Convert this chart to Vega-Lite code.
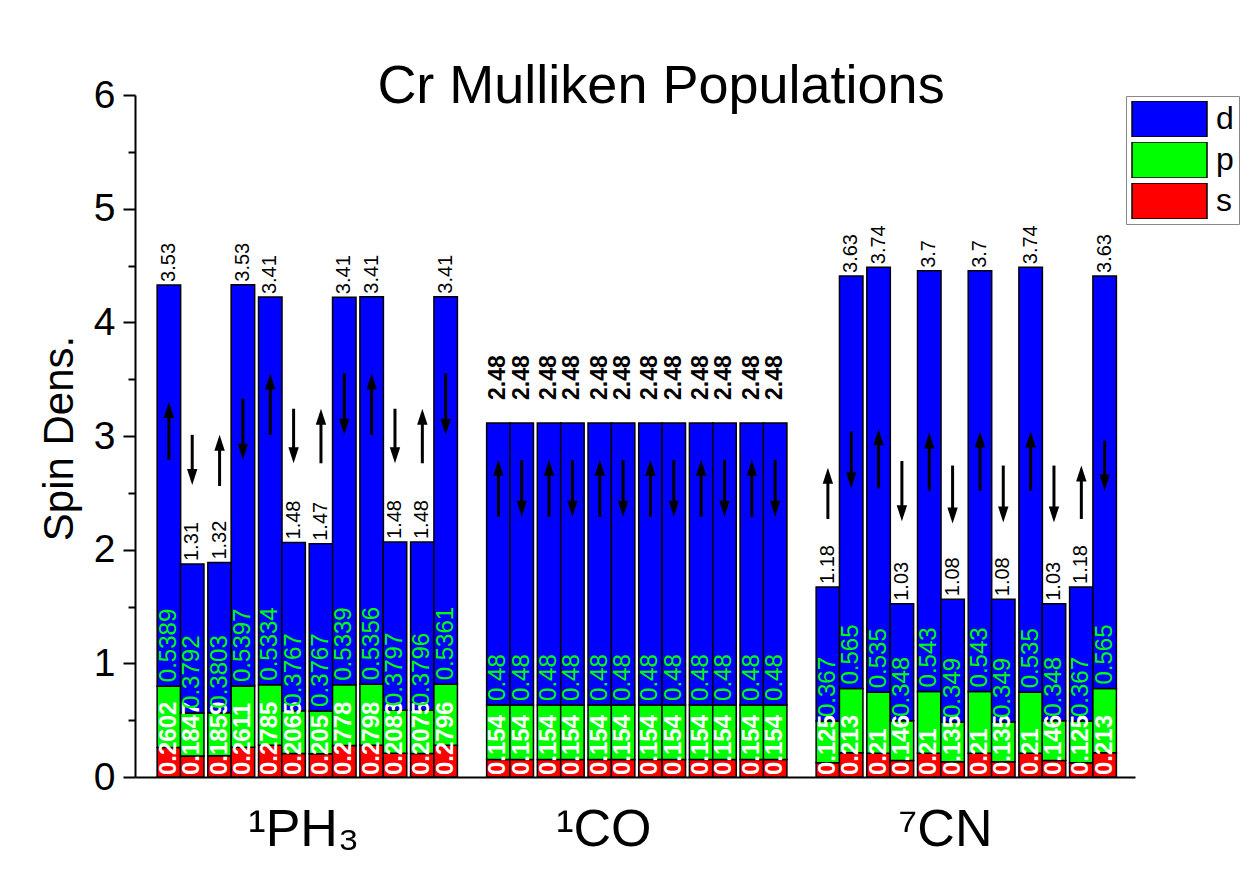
{
  "$schema": "https://vega.github.io/schema/vega-lite/v6.json",
  "width": 1000,
  "height": 682,
  "autosize": {"type": "none"},
  "padding": {"left": 135, "top": 95, "right": 115, "bottom": 102},
  "background": "white",
  "config": {
    "font": "Liberation Sans",
    "view": {"stroke": null},
    "axis": {"grid": false, "domainColor": "black", "domainWidth": 2, "tickColor": "black", "tickWidth": 2, "labelColor": "black", "titleColor": "black", "labelFont": "Liberation Sans", "titleFont": "Liberation Sans"}
  },
  "title": {"text": "Cr Mulliken Populations", "fontSize": 54, "fontWeight": "normal", "font": "Liberation Sans", "color": "black", "anchor": "middle", "frame": "group", "dx": 26, "baseline": "alphabetic", "offset": -81},
  "data": {"values": [
    {"g": "PH3", "x": -0.23, "dir": "up", "s": 0.2602, "p": 0.5389, "d": 3.53, "a0": 2.79, "a1": 3.30},
    {"g": "PH3", "x": 0.23, "dir": "down", "s": 0.1847, "p": 0.3792, "d": 1.31, "a0": 2.57, "a1": 3.01},
    {"g": "PH3", "x": 0.77, "dir": "up", "s": 0.1859, "p": 0.3803, "d": 1.32, "a0": 2.56, "a1": 3.01},
    {"g": "PH3", "x": 1.23, "dir": "down", "s": 0.2611, "p": 0.5397, "d": 3.53, "a0": 2.79, "a1": 3.33},
    {"g": "PH3", "x": 1.77, "dir": "up", "s": 0.2785, "p": 0.5334, "d": 3.41, "a0": 3.01, "a1": 3.55},
    {"g": "PH3", "x": 2.23, "dir": "down", "s": 0.2065, "p": 0.3767, "d": 1.48, "a0": 2.76, "a1": 3.24},
    {"g": "PH3", "x": 2.77, "dir": "up", "s": 0.205, "p": 0.3767, "d": 1.47, "a0": 2.76, "a1": 3.24},
    {"g": "PH3", "x": 3.23, "dir": "down", "s": 0.2778, "p": 0.5339, "d": 3.41, "a0": 3.01, "a1": 3.55},
    {"g": "PH3", "x": 3.77, "dir": "up", "s": 0.2798, "p": 0.5356, "d": 3.41, "a0": 3.01, "a1": 3.55},
    {"g": "PH3", "x": 4.23, "dir": "down", "s": 0.2083, "p": 0.3797, "d": 1.48, "a0": 2.76, "a1": 3.24},
    {"g": "PH3", "x": 4.77, "dir": "up", "s": 0.2075, "p": 0.3796, "d": 1.48, "a0": 2.76, "a1": 3.24},
    {"g": "PH3", "x": 5.23, "dir": "down", "s": 0.2796, "p": 0.5361, "d": 3.41, "a0": 3.01, "a1": 3.55},
    {"g": "CO", "x": 6.27, "dir": "up", "s": 0.154, "p": 0.48, "d": 2.48, "a0": 2.29, "a1": 2.79},
    {"g": "CO", "x": 6.73, "dir": "down", "s": 0.154, "p": 0.48, "d": 2.48, "a0": 2.29, "a1": 2.79},
    {"g": "CO", "x": 7.27, "dir": "up", "s": 0.154, "p": 0.48, "d": 2.48, "a0": 2.29, "a1": 2.79},
    {"g": "CO", "x": 7.73, "dir": "down", "s": 0.154, "p": 0.48, "d": 2.48, "a0": 2.29, "a1": 2.79},
    {"g": "CO", "x": 8.27, "dir": "up", "s": 0.154, "p": 0.48, "d": 2.48, "a0": 2.29, "a1": 2.79},
    {"g": "CO", "x": 8.73, "dir": "down", "s": 0.154, "p": 0.48, "d": 2.48, "a0": 2.29, "a1": 2.79},
    {"g": "CO", "x": 9.27, "dir": "up", "s": 0.154, "p": 0.48, "d": 2.48, "a0": 2.29, "a1": 2.79},
    {"g": "CO", "x": 9.73, "dir": "down", "s": 0.154, "p": 0.48, "d": 2.48, "a0": 2.29, "a1": 2.79},
    {"g": "CO", "x": 10.27, "dir": "up", "s": 0.154, "p": 0.48, "d": 2.48, "a0": 2.29, "a1": 2.79},
    {"g": "CO", "x": 10.73, "dir": "down", "s": 0.154, "p": 0.48, "d": 2.48, "a0": 2.29, "a1": 2.79},
    {"g": "CO", "x": 11.27, "dir": "up", "s": 0.154, "p": 0.48, "d": 2.48, "a0": 2.29, "a1": 2.79},
    {"g": "CO", "x": 11.73, "dir": "down", "s": 0.154, "p": 0.48, "d": 2.48, "a0": 2.29, "a1": 2.79},
    {"g": "CN", "x": 12.77, "dir": "up", "s": 0.125, "p": 0.367, "d": 1.18, "a0": 2.27, "a1": 2.72},
    {"g": "CN", "x": 13.23, "dir": "down", "s": 0.213, "p": 0.565, "d": 3.63, "a0": 2.54, "a1": 3.04},
    {"g": "CN", "x": 13.77, "dir": "up", "s": 0.21, "p": 0.535, "d": 3.74, "a0": 2.54, "a1": 3.06},
    {"g": "CN", "x": 14.23, "dir": "down", "s": 0.146, "p": 0.348, "d": 1.03, "a0": 2.25, "a1": 2.78},
    {"g": "CN", "x": 14.77, "dir": "up", "s": 0.21, "p": 0.543, "d": 3.7, "a0": 2.52, "a1": 3.03},
    {"g": "CN", "x": 15.23, "dir": "down", "s": 0.135, "p": 0.349, "d": 1.08, "a0": 2.23, "a1": 2.74},
    {"g": "CN", "x": 15.77, "dir": "up", "s": 0.21, "p": 0.543, "d": 3.7, "a0": 2.52, "a1": 3.04},
    {"g": "CN", "x": 16.23, "dir": "down", "s": 0.135, "p": 0.349, "d": 1.08, "a0": 2.24, "a1": 2.74},
    {"g": "CN", "x": 16.77, "dir": "up", "s": 0.21, "p": 0.535, "d": 3.74, "a0": 2.52, "a1": 3.04},
    {"g": "CN", "x": 17.23, "dir": "down", "s": 0.146, "p": 0.348, "d": 1.03, "a0": 2.24, "a1": 2.74},
    {"g": "CN", "x": 17.77, "dir": "up", "s": 0.125, "p": 0.367, "d": 1.18, "a0": 2.27, "a1": 2.74},
    {"g": "CN", "x": 18.23, "dir": "down", "s": 0.213, "p": 0.565, "d": 3.63, "a0": 2.52, "a1": 2.96}
  ]},
  "layer": [
    {
      "transform": [
        {"fold": ["s", "p", "d"], "as": ["orbital", "value"]},
        {"stack": "value", "groupby": ["x"], "sort": [{"field": "orbital", "order": "descending"}], "as": ["v0", "v1"]}
      ],
      "mark": {"type": "bar", "width": 23.5, "stroke": "black", "strokeWidth": 1.5},
      "encoding": {
        "x": {"field": "x", "type": "quantitative", "title": null,
          "scale": {"domain": [-0.8, 18.73], "nice": false, "zero": false},
          "axis": {"title": null, "values": [2.42, 8.34, 15.08], "labelExpr": "datum.value < 5 ? '¹PH₃' : datum.value < 12 ? '¹CO' : '⁷CN'", "labelFontSize": 52, "labelBaseline": "alphabetic", "labelPadding": 68, "ticks": false, "tickSize": 0, "labelOverlap": false, "labelFlush": false}},
        "y": {"field": "v0", "type": "quantitative", "title": "Spin Dens.",
          "scale": {"domain": [0, 6], "nice": false, "zero": true},
          "axis": {"title": "Spin Dens.", "titleFontSize": 42, "titleFontWeight": "normal", "titleX": -63, "titleY": 343, "titleAlign": "center", "titleBaseline": "alphabetic", "titleAngle": 270,
            "values": [0, 0.5, 1, 1.5, 2, 2.5, 3, 3.5, 4, 4.5, 5, 5.5, 6],
            "labelExpr": "datum.value % 1 === 0 ? format(datum.value, 'd') : ''", "labelFontSize": 39, "labelPadding": 8, "labelOverlap": false,
            "tickSize": {"condition": {"test": "datum.value % 1 !== 0", "value": 7}, "value": 12}}},
        "y2": {"field": "v1"},
        "color": {"field": "orbital", "type": "nominal",
          "scale": {"domain": ["d", "p", "s"], "range": ["#0000ff", "#00ff00", "#ff0000"]},
          "legend": {"orient": "none", "legendX": 991, "legendY": 1, "title": null, "symbolType": "M-1,-0.48H1V0.48H-1Z", "symbolSize": 5625, "symbolStrokeColor": "black", "symbolStrokeWidth": 1.5, "symbolOpacity": 1, "clipHeight": 36, "labelFontSize": 32, "labelFont": "Liberation Sans", "labelColor": "black", "labelOffset": 8, "rowPadding": 5, "padding": 5, "strokeColor": "#888888", "fillColor": "white"}}
      }
    },
    {
      "transform": [
        {"fold": ["s", "p", "d"], "as": ["orbital", "value"]},
        {"stack": "value", "groupby": ["x"], "sort": [{"field": "orbital", "order": "descending"}], "as": ["v0", "v1"]},
        {"filter": "datum.orbital === 's'"}
      ],
      "mark": {"type": "text", "angle": 270, "align": "left", "baseline": "middle", "dx": 2, "fontSize": 24, "fontWeight": "bold", "color": "white"},
      "encoding": {
        "x": {"field": "x", "type": "quantitative", "title": null},
        "y": {"field": "v0", "type": "quantitative", "title": "Spin Dens."},
        "text": {"field": "value", "type": "nominal"}
      }
    },
    {
      "transform": [
        {"fold": ["s", "p", "d"], "as": ["orbital", "value"]},
        {"stack": "value", "groupby": ["x"], "sort": [{"field": "orbital", "order": "descending"}], "as": ["v0", "v1"]},
        {"filter": "datum.orbital === 'p'"}
      ],
      "mark": {"type": "text", "angle": 270, "align": "left", "baseline": "middle", "dx": 4, "fontSize": 24, "color": "#00ff00"},
      "encoding": {
        "x": {"field": "x", "type": "quantitative", "title": null},
        "y": {"field": "v1", "type": "quantitative", "title": "Spin Dens."},
        "text": {"field": "value", "type": "nominal"}
      }
    },
    {
      "transform": [
        {"fold": ["s", "p", "d"], "as": ["orbital", "value"]},
        {"stack": "value", "groupby": ["x"], "sort": [{"field": "orbital", "order": "descending"}], "as": ["v0", "v1"]},
        {"filter": "datum.orbital === 'd' && datum.g !== 'CO'"}
      ],
      "mark": {"type": "text", "angle": 270, "align": "left", "baseline": "middle", "dx": 3, "fontSize": 20, "color": "black"},
      "encoding": {
        "x": {"field": "x", "type": "quantitative", "title": null},
        "y": {"field": "v1", "type": "quantitative", "title": "Spin Dens."},
        "text": {"field": "value", "type": "nominal"}
      }
    },
    {
      "transform": [
        {"fold": ["s", "p", "d"], "as": ["orbital", "value"]},
        {"stack": "value", "groupby": ["x"], "sort": [{"field": "orbital", "order": "descending"}], "as": ["v0", "v1"]},
        {"filter": "datum.orbital === 'd' && datum.g === 'CO'"}
      ],
      "mark": {"type": "text", "angle": 270, "align": "left", "baseline": "middle", "dx": 23, "fontSize": 23, "fontWeight": "bold", "color": "black"},
      "encoding": {
        "x": {"field": "x", "type": "quantitative", "title": null},
        "y": {"field": "v1", "type": "quantitative", "title": "Spin Dens."},
        "text": {"field": "value", "type": "nominal"}
      }
    },
    {
      "transform": [{"filter": "datum.dir === 'up'"}],
      "mark": {"type": "rule", "color": "black", "strokeWidth": 3, "y2Offset": 14},
      "encoding": {
        "x": {"field": "x", "type": "quantitative", "title": null},
        "y": {"field": "a0", "type": "quantitative", "title": "Spin Dens."},
        "y2": {"field": "a1"}
      }
    },
    {
      "transform": [{"filter": "datum.dir === 'down'"}],
      "mark": {"type": "rule", "color": "black", "strokeWidth": 3, "yOffset": -14},
      "encoding": {
        "x": {"field": "x", "type": "quantitative", "title": null},
        "y": {"field": "a0", "type": "quantitative", "title": "Spin Dens."},
        "y2": {"field": "a1"}
      }
    },
    {
      "transform": [{"filter": "datum.dir === 'up'"}],
      "mark": {"type": "point", "shape": "M0,-1L0.65,1L-0.65,1Z", "size": 256, "filled": true, "color": "black", "opacity": 1, "strokeWidth": 0, "yOffset": 8},
      "encoding": {
        "x": {"field": "x", "type": "quantitative", "title": null},
        "y": {"field": "a1", "type": "quantitative", "title": "Spin Dens."}
      }
    },
    {
      "transform": [{"filter": "datum.dir === 'down'"}],
      "mark": {"type": "point", "shape": "M0,1L0.65,-1L-0.65,-1Z", "size": 256, "filled": true, "color": "black", "opacity": 1, "strokeWidth": 0, "yOffset": -8},
      "encoding": {
        "x": {"field": "x", "type": "quantitative", "title": null},
        "y": {"field": "a0", "type": "quantitative", "title": "Spin Dens."}
      }
    }
  ]
}
